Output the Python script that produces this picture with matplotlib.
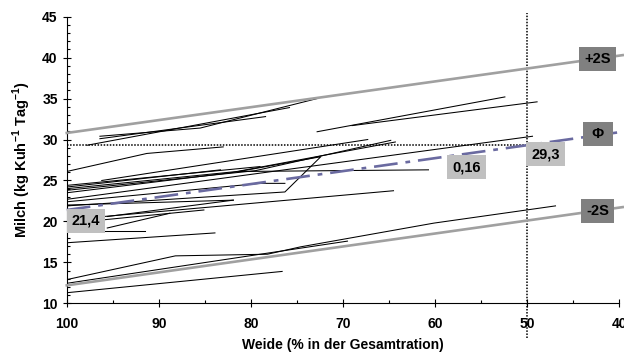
import numpy as np
import matplotlib
matplotlib.use('Agg')
import matplotlib.pyplot as plt
from matplotlib.ticker import MultipleLocator

plt.rcParams['font.family'] = ['Liberation Sans', 'DejaVu Sans']
plt.rcParams['font.weight'] = 'bold'
plt.rcParams['mathtext.fontset'] = 'custom'
plt.rcParams['mathtext.rm'] = 'Liberation Sans:bold'
plt.rcParams['mathtext.bf'] = 'Liberation Sans:bold'

# Single farm lines (Weide %, Milch kg)
farms = [
    [(96.4, 30.4), (85.5, 31.4), (72.8, 35.0)],
    [(96.4, 30.1), (78.4, 32.8)],
    [(97.8, 29.3), (75.8, 33.9)],
    [(72.8, 30.95), (52.4, 35.2)],
    [(69.0, 31.7), (48.9, 34.6)],
    [(100, 26.1), (91.3, 28.3), (83.0, 29.1)],
    [(96.2, 25.0), (67.3, 30.0)],
    [(100, 22.7), (49.4, 30.4)],
    [(100, 24.4), (79.0, 26.7)],
    [(100, 24.2), (83.3, 26.3)],
    [(100, 24.0), (81.5, 26.1), (64.3, 29.7)],
    [(100, 23.8), (79.5, 26.2), (64.8, 29.9)],
    [(100, 23.5), (81.1, 26.1), (60.7, 26.3)],
    [(100, 22.4), (79.0, 24.65), (76.3, 24.65)],
    [(100, 22.0), (81.9, 22.6)],
    [(100, 21.9), (76.3, 23.6), (72.4, 27.9), (81.3, 26.1)],
    [(100, 20.2), (64.5, 23.75)],
    [(95.6, 20.6), (81.9, 22.6)],
    [(96.0, 20.2), (85.1, 21.4)],
    [(95.6, 19.2), (88.8, 21.0)],
    [(100, 18.85), (91.5, 18.85)],
    [(100, 17.4), (83.9, 18.6)],
    [(100, 12.9), (88.2, 15.8), (78.2, 16.0), (74.6, 16.9), (60.1, 19.8), (46.9, 21.9)],
    [(100, 12.45), (69.5, 17.6)],
    [(100, 11.3), (76.6, 13.9)],
]

# Mean and +-2S lines
ref_x = [100, 39.6]
mean_y = [21.4, 30.95]
plus2s_y = [30.8, 40.3]
minus2s_y = [12.2, 21.75]

fig = plt.figure(figsize=(6.24, 3.54), dpi=100)
ax = fig.add_axes([0.107, 0.143, 0.885, 0.81])

for f in farms:
    xs = [p[0] for p in f]
    ys = [p[1] for p in f]
    ax.plot(xs, ys, color='black', linewidth=0.75, zorder=3)

ax.plot(ref_x, plus2s_y, color='#a0a0a0', linewidth=1.9, clip_on=False, zorder=4)
ax.plot(ref_x, minus2s_y, color='#a0a0a0', linewidth=1.9, clip_on=False, zorder=4)
ax.plot(ref_x, mean_y, color='#6a6aa0', linewidth=1.9, linestyle=(0, (9, 3, 1.8, 3)),
        clip_on=False, zorder=4)

# dotted helper lines at 50 % Weide
ax.plot([100, 50], [29.3, 29.3], color='black', linewidth=1.1, linestyle=(0, (1, 1)), zorder=3)
ax.plot([50, 50], [5.8, 45.4], color='black', linewidth=1.1, linestyle=(0, (1, 1)),
        clip_on=False, zorder=3)

# Labels
dark = dict(boxstyle='square,pad=0.35', fc='#808080', ec='none')
light = dict(boxstyle='square,pad=0.35', fc='#c0c0c0', ec='none')
ax.text(42.3, 39.8, '+2S', ha='center', va='center', fontsize=10.5, bbox=dark, zorder=6)
ax.text(42.3, 30.7, ' Φ ', ha='center', va='center', fontsize=10.5, bbox=dark, zorder=6)
ax.text(42.3, 21.3, '-2S', ha='center', va='center', fontsize=10.5, bbox=dark, zorder=6)
ax.text(97.9, 20.1, '21,4', ha='center', va='center', fontsize=10.5, bbox=light, zorder=6)
ax.text(56.6, 26.6, '0,16', ha='center', va='center', fontsize=10.5, bbox=light, zorder=6)
ax.text(48.0, 28.2, '29,3', ha='center', va='center', fontsize=10.5, bbox=light, zorder=6)

ax.set_xlim(100, 40)
ax.set_ylim(10, 45)
ax.xaxis.set_major_locator(MultipleLocator(10))
ax.xaxis.set_minor_locator(MultipleLocator(5))
ax.yaxis.set_major_locator(MultipleLocator(5))
ax.yaxis.set_minor_locator(MultipleLocator(1))
ax.tick_params(which='major', direction='inout', length=6, width=0.8, labelsize=10, pad=3.5)
ax.tick_params(which='minor', direction='in', length=2.5, width=0.8)
ax.tick_params(axis='x', which='major', pad=7)
ax.spines['top'].set_visible(False)
ax.spines['right'].set_visible(False)

ax.set_xlabel('Weide (% in der Gesamtration)', fontsize=10, fontweight='bold', labelpad=5)
ax.set_ylabel(r'Milch (kg Kuh$^{-1}$ Tag$^{-1}$)', fontsize=10.5, fontweight='bold', labelpad=7)

fig.savefig('out.png', dpi=100)
